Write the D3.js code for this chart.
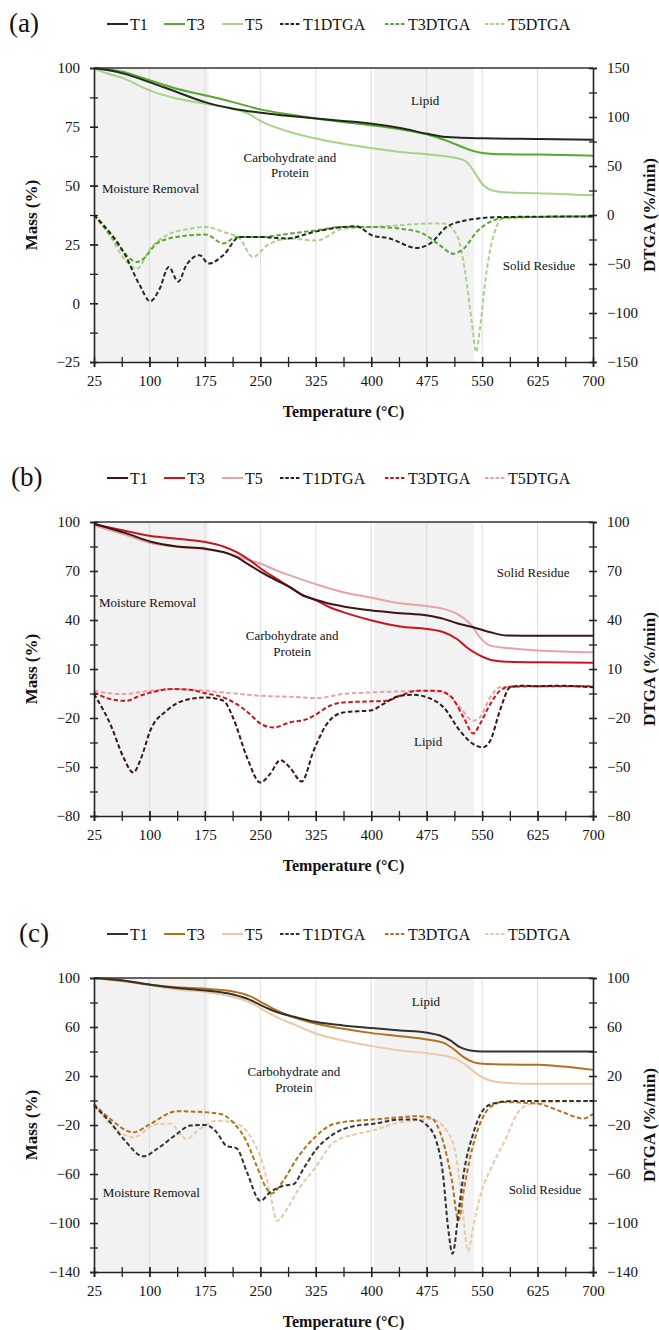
<!DOCTYPE html>
<html><head><meta charset="utf-8">
<script src="https://cdn.jsdelivr.net/npm/d3@7"></script>
<style>
body{margin:0;background:#fff}
svg{display:block;font-family:"Liberation Serif",serif}
svg text{font-family:"Liberation Serif",serif;fill:#111}
</style>
</head><body>
<svg id="c" width="659" height="1330" font-family="Liberation Serif"></svg>
<script>
// ---------- shared ----------
const tempTicks = [25,100,175,250,325,400,475,550,625,700];
const seriesNames = ["T1","T3","T5","T1DTGA","T3DTGA","T5DTGA"];
const regionBands = [[25,180],[404,539]];

// ---------- panel (a) ----------
const aMassTicks = [-25,0,25,50,75,100];
const aDtgaTicks = [-150,-100,-50,0,50,100,150];
const aColors = ["#1f2b19","#5aa533","#a9d18e"];
const aT1 = [[25,100],[45,99],[65,97.6],[100,94],[137,89.8],[175,85.5],[213,82.7],[251,81],[290,79.6],[326,78.5],[362,77.5],[401,76.3],[439,74.5],[476,72],[493,71],[516,70.4],[551,70.1],[626,69.8],[700,69.5]];
const aT3 = [[25,100],[65,98.3],[100,94.8],[137,91.2],[175,88.4],[213,85.5],[250,82.4],[290,80.2],[325,78.5],[362,77],[400,75.6],[439,73.9],[475,71.8],[507,68.5],[529,65.7],[550,63.9],[583,63.3],[625,63.2],[700,62.7]];
const aT5 = [[25,99.7],[40,98],[66,95.5],[100,90.5],[137,87],[175,84.8],[213,82.7],[236,80.2],[250,77.5],[290,72.8],[325,70],[362,67.8],[400,66],[439,64.3],[475,63.3],[507,62.2],[527,60.5],[538,56.5],[550,50.8],[565,47.8],[583,47.1],[625,46.8],[700,45.9]];
const aT1D = [[25,0],[38,-10.5],[65,-37.8],[87,-71.8],[101,-88],[114,-75],[126,-53],[139,-68],[150,-51],[168,-41],[180,-49.6],[200,-41],[222,-22.4],[251,-22.4],[285,-24],[326,-16.7],[362,-12.2],[380,-11.5],[401,-20.7],[425,-24],[461,-33.6],[480,-29],[502,-12.2],[529,-5.4],[551,-3],[583,-2],[700,-1.5]];
const aT3D = [[25,0],[47,-20],[65,-37.8],[83,-48],[92,-44.6],[110,-29],[137,-22.4],[176,-20],[200,-29],[218,-22.4],[251,-22.4],[290,-19],[326,-15.6],[362,-12.2],[401,-12.2],[439,-14],[470,-19],[493,-31],[511,-39.5],[525,-34.4],[543,-17],[561,-7],[583,-2.7],[626,-2],[700,-1.5]];
const aT5D = [[25,0],[47,-22],[65,-44],[83,-54.8],[101,-34.4],[123,-20.8],[155,-14],[176,-12.2],[200,-17.3],[222,-24],[240,-43],[259,-31],[290,-24],[326,-26],[362,-14],[401,-12.2],[439,-10.5],[476,-8.8],[498,-8.8],[516,-20.7],[527,-58],[536,-109],[542,-140],[547,-116],[556,-58],[567,-17],[579,-3],[626,-2],[700,-1.5]];
const aNotes = [["Lipid",473,84.3,"middle"],["Carbohydrate and",290,60,"middle"],["Protein",290,53.7,"middle"],["Moisture Removal",35.8,46.9,"start"],["Solid Residue",627,14.1,"middle"]];

// ---------- panel (b) ----------
const bMassTicks = [-80,-50,-20,10,40,70,100];
const bDtgaTicks = [-80,-50,-20,10,40,70,100];
const bColors = ["#3a1515","#c8161e","#e6a3a3"];
const bT1 = [[25,99],[47,96],[68,93.2],[102,87.9],[137,85],[176,83.6],[200,81.6],[218,78.5],[236,73.4],[251,69.3],[272,64.2],[290,60.1],[308,55],[326,52.3],[344,49.9],[362,48.3],[401,45.8],[439,44.2],[476,42.7],[498,40.7],[516,38],[538,35.6],[561,32.5],[583,30.5],[626,30.3],[700,30.3]];
const bT3 = [[25,98.6],[47,96.5],[68,94.5],[102,91.4],[137,89.8],[176,87.7],[200,85],[218,81.6],[236,76.5],[251,71.4],[272,65.2],[290,60.1],[308,55],[326,51.9],[344,47.8],[362,44.8],[401,39.7],[439,36],[476,34.5],[498,32.5],[516,28.4],[529,23.3],[543,19.2],[561,15.7],[583,14.5],[626,14.1],[700,13.9]];
const bT5 = [[25,98],[47,94.9],[65,92.4],[101,87.2],[137,84.9],[176,83.2],[200,81.4],[218,79.2],[236,76.5],[251,74.4],[272,70.3],[290,67.3],[326,61.8],[362,57],[401,53.6],[439,50.3],[476,48.5],[498,46.8],[516,43.8],[534,37.6],[547,29.4],[561,24.3],[583,22.9],[626,21.3],[700,20.2]];
const bT1D = [[25,-5.3],[47,-23.7],[65,-44.2],[78,-53.4],[89,-44.2],[101,-27.8],[123,-15.6],[146,-9.4],[176,-7.4],[200,-9.4],[213,-19.7],[232,-44.2],[250,-59.5],[263,-54.4],[277,-45.8],[290,-50.3],[306,-58.9],[322,-40.1],[340,-23.7],[362,-16.6],[401,-15.2],[416,-11.5],[439,-6.4],[457,-5.8],[476,-7.4],[498,-13.5],[520,-27.8],[538,-36],[551,-38],[561,-33.9],[574,-15.6],[588,-1.2],[606,-0.2],[626,-0.6],[651,-0.2],[700,-1.2]];
const bT3D = [[25,-4.3],[47,-8.4],[68,-9.5],[87,-6.4],[132,-2.3],[155,-2.7],[176,-4.9],[200,-7.4],[218,-11.5],[236,-17.6],[251,-23.7],[268,-25.8],[290,-22.7],[313,-20.7],[326,-17.6],[344,-12.5],[362,-10.5],[401,-9.8],[421,-9.4],[439,-6.4],[462,-3.3],[489,-3.3],[507,-6.4],[525,-19.7],[538,-29.5],[547,-23.7],[561,-11.5],[574,-3.3],[588,-0.8],[626,-0.6],[700,-0.6]];
const bT5D = [[25,-3.3],[47,-4.9],[65,-5.3],[101,-3.3],[137,-2.3],[176,-3.3],[213,-4.9],[251,-6.4],[290,-7],[326,-7.8],[362,-5.3],[401,-4.3],[439,-3.7],[476,-3.3],[498,-4.3],[520,-13.5],[538,-21.7],[547,-19.7],[561,-7.4],[574,-1.2],[626,-0.6],[700,-0.6]];
const bNotes = [["Solid Residue",619,66.2,"middle"],["Moisture Removal",31.8,47.8,"start"],["Carbohydrate and",293,27.5,"middle"],["Protein",293,17.7,"middle"],["Lipid",477,-37,"middle"]];

// ---------- panel (c) ----------
const cMassTicks = [-140,-100,-60,-20,20,60,100];
const cDtgaTicks = [-140,-100,-60,-20,20,60,100];
const cColors = ["#35302a","#b3711f","#ebc8a6"];
const cT1 = [[25,100],[65,98],[101,94.5],[137,91.8],[176,89.8],[213,86.5],[236,82.2],[251,77.6],[272,72.2],[296,68.3],[326,64],[362,61.3],[401,59.1],[439,57.2],[476,55.3],[493,53.1],[507,49],[520,43.5],[534,40.8],[551,40],[626,40],[700,40]];
const cT3 = [[25,100],[65,97.5],[101,94.5],[137,92.4],[176,91.2],[213,89],[236,85.2],[251,80.4],[272,73.5],[296,67.7],[326,62.6],[362,58.5],[401,55],[439,52.5],[476,49.8],[498,47.1],[511,42.2],[525,35.4],[538,31.3],[551,29.9],[583,29.4],[626,29.1],[660,27.7],[700,25]];
const cT5 = [[25,100],[65,97.3],[101,94],[137,90.7],[176,88.5],[213,84.5],[236,80],[251,75],[272,68],[296,62],[326,54.5],[362,49],[401,44.4],[439,40.8],[476,38.6],[498,36.7],[516,33.5],[529,28.5],[543,21.7],[561,16.3],[583,14.4],[626,13.6],[700,13.6]];
const cT1D = [[25,-4.2],[47,-17.8],[65,-31.4],[92,-45.6],[110,-39.6],[137,-27.4],[155,-20.5],[176,-20],[191,-26],[204,-36.9],[218,-39.1],[232,-58.7],[250,-81.9],[263,-75],[281,-69.6],[295,-68.3],[308,-56],[326,-39.6],[349,-27.4],[380,-20.5],[401,-19.2],[439,-15.6],[461,-15.6],[475,-20],[488,-33],[497,-60],[504,-104],[510,-125],[518,-92],[525,-60],[538,-27],[551,-8],[565,-2.5],[590,-0.5],[700,-0.5]];
const cT3D = [[25,-2.8],[47,-15.1],[78,-26],[101,-19.2],[137,-8.8],[176,-9.6],[196,-11],[213,-17.8],[232,-34.2],[245,-53.3],[259,-72.4],[265,-76],[281,-65.5],[299,-47.8],[326,-28.7],[349,-19.2],[380,-16.5],[401,-15.6],[439,-13.7],[461,-12.8],[480,-14],[497,-33],[509,-65],[518,-98],[525,-74],[534,-46],[547,-19],[561,-5.4],[578,-1.3],[624,-2.5],[659,-9.5],[687,-14.7],[700,-11]];
const cT5D = [[25,-2.8],[47,-19.2],[78,-30],[110,-19.2],[128,-19],[150,-31.4],[168,-23.3],[191,-16.5],[213,-17.8],[236,-28.7],[254,-53.3],[265,-80.5],[272,-98.3],[286,-88.7],[299,-75],[326,-53.3],[349,-34.2],[380,-27.4],[401,-24.6],[439,-17.8],[457,-16.5],[480,-15],[502,-24.5],[515,-46],[522,-79],[531,-123],[538,-103],[547,-79],[565,-51.6],[583,-30],[597,-11],[615,-3],[640,-1.5],[700,-0.5]];
const cNotes = [["Lipid",474,77.1,"middle"],["Carbohydrate and",295.5,19.7,"middle"],["Protein",295.5,6.6,"middle"],["Moisture Removal",37,-78.6,"start"],["Solid Residue",635,-76.1,"middle"]];

// ---------- layout ----------
const FONT = '"Liberation Serif", serif';
const plotLeft = 94, plotRight = 593, plotH = 294;
const legendX = [107,164,222,280,385,485];
const panels = [
  {label:"(a)", labelX:9, top:68, massTicks:aMassTicks, dtgaTicks:aDtgaTicks, massMinor:12.5, dtgaMinor:25, colors:aColors, mass:[aT1,aT3,aT5], dtga:[aT1D,aT3D,aT5D], notes:aNotes},
  {label:"(b)", labelX:11, top:522, massTicks:bMassTicks, dtgaTicks:bDtgaTicks, massMinor:15, dtgaMinor:15, colors:bColors, mass:[bT1,bT3,bT5], dtga:[bT1D,bT3D,bT5D], notes:bNotes},
  {label:"(c)", labelX:19, top:978, massTicks:cMassTicks, dtgaTicks:cDtgaTicks, massMinor:20, dtgaMinor:20, colors:cColors, mass:[cT1,cT3,cT5], dtga:[cT1D,cT3D,cT5D], notes:cNotes}
];

const svg = d3.select("#c");
const dash = "4.5,2.5";

panels.forEach(p => {
  const g = svg.append("g").attr("font-family", FONT);
  const bottom = p.top + plotH;
  const x = d3.scaleLinear().domain([25,700]).range([plotLeft, plotRight]);
  const mExt = d3.extent(p.massTicks), dExt = d3.extent(p.dtgaTicks);
  const y = d3.scaleLinear().domain(mExt).range([bottom, p.top]);
  const y2 = d3.scaleLinear().domain(dExt).range([bottom, p.top]);

  regionBands.forEach(b => {
    g.append("rect").attr("x", x(b[0])).attr("y", p.top)
      .attr("width", x(b[1]) - x(b[0])).attr("height", plotH)
      .attr("fill", "#f2f2f2");
  });
  tempTicks.slice(1, -1).forEach(t => {
    g.append("line").attr("x1", x(t)).attr("x2", x(t)).attr("y1", p.top).attr("y2", bottom)
      .attr("stroke", "#dcdcdc").attr("stroke-width", 1);
  });
  p.notes.forEach(n => {
    g.append("text").attr("x", x(n[1])).attr("y", y(n[2])).attr("text-anchor", n[3])
      .attr("font-family", FONT).attr("font-size", 13).text(n[0]);
  });

  const line = (sc) => d3.line().x(d => x(d[0])).y(d => sc(d[1])).curve(d3.curveMonotoneX);
  [2,1,0].forEach(i => {
    g.append("path").datum(p.dtga[i]).attr("d", line(y2)).attr("fill", "none")
      .attr("stroke", p.colors[i]).attr("stroke-width", 2).attr("stroke-dasharray", dash);
  });
  [2,1,0].forEach(i => {
    g.append("path").datum(p.mass[i]).attr("d", line(y)).attr("fill", "none")
      .attr("stroke", p.colors[i]).attr("stroke-width", 2);
  });

  g.append("line").attr("x1", plotLeft).attr("x2", plotRight).attr("y1", p.top).attr("y2", p.top)
    .attr("stroke", "#333").attr("stroke-width", 1.3);

  const styleAxis = (ax) => {
    ax.attr("font-family", FONT);
    ax.select(".domain").attr("stroke", "#222").attr("stroke-width", 1.6);
    ax.selectAll(".tick line").attr("stroke", "#222").attr("stroke-width", 1.3);
    ax.selectAll("text").attr("font-size", 15).attr("font-family", FONT).attr("fill", "#111");
  };
  const minorVals = (ext, step) => d3.range(ext[0], ext[1] + step / 2, step);

  const axL = g.append("g").attr("transform", `translate(${plotLeft},0)`)
    .call(d3.axisLeft(y).tickValues(minorVals(mExt, p.massMinor)).tickSize(4).tickFormat(""));
  axL.selectAll(".tick line").attr("x1", 4);
  styleAxis(axL);
  const axLl = g.append("g").attr("transform", `translate(${plotLeft},0)`)
    .call(d3.axisLeft(y).tickValues(p.massTicks).tickSize(4).tickPadding(10).tickFormat(d3.format("d")));
  axLl.selectAll(".tick line").attr("x1", 4);
  axLl.select(".domain").remove();
  styleAxis(axLl);

  const axR = g.append("g").attr("transform", `translate(${plotRight},0)`)
    .call(d3.axisRight(y2).tickValues(minorVals(dExt, p.dtgaMinor)).tickSize(4).tickFormat(""));
  axR.selectAll(".tick line").attr("x1", -4);
  styleAxis(axR);
  const axRl = g.append("g").attr("transform", `translate(${plotRight},0)`)
    .call(d3.axisRight(y2).tickValues(p.dtgaTicks).tickSize(4).tickPadding(10).tickFormat(d3.format("d")));
  axRl.selectAll(".tick line").attr("x1", -4);
  axRl.select(".domain").remove();
  styleAxis(axRl);

  const axB = g.append("g").attr("transform", `translate(0,${bottom})`)
    .call(d3.axisBottom(x).tickValues(d3.range(25, 701, 37.5)).tickSize(5).tickFormat(""));
  axB.selectAll(".tick line").attr("y1", -5);
  styleAxis(axB);
  const axBl = g.append("g").attr("transform", `translate(0,${bottom})`)
    .call(d3.axisBottom(x).tickValues(tempTicks).tickSize(5).tickPadding(8).tickFormat(d3.format("d")));
  axBl.selectAll(".tick line").attr("y1", -5);
  axBl.select(".domain").remove();
  styleAxis(axBl);

  g.append("text").attr("x", (plotLeft + plotRight) / 2).attr("y", bottom + 55)
    .attr("text-anchor", "middle").attr("font-family", FONT).attr("font-size", 16).attr("font-weight", "bold")
    .text("Temperature (°C)");
  g.append("text").attr("transform", `translate(37,${p.top + plotH / 2}) rotate(-90)`)
    .attr("text-anchor", "middle").attr("font-family", FONT).attr("font-size", 17).attr("font-weight", "bold").text("Mass (%)");
  g.append("text").attr("transform", `translate(655,${p.top + plotH / 2}) rotate(-90)`)
    .attr("text-anchor", "middle").attr("font-family", FONT).attr("font-size", 17).attr("font-weight", "bold").text("DTGA (%/min)");

  g.append("text").attr("x", p.labelX).attr("y", p.top - 36).attr("font-family", FONT).attr("font-size", 27).text(p.label);

  const ly = p.top - 44;
  seriesNames.forEach((name, i) => {
    const lx = legendX[i];
    const col = p.colors[i % 3];
    const ln = g.append("line").attr("x1", lx).attr("x2", lx + 21).attr("y1", ly).attr("y2", ly)
      .attr("stroke", col).attr("stroke-width", 2);
    if (i >= 3) ln.attr("stroke-dasharray", "3.5,1.8");
    g.append("text").attr("x", lx + 23).attr("y", ly + 5.5).attr("font-family", FONT).attr("font-size", 16).text(name);
  });
});
</script>
</body></html>
